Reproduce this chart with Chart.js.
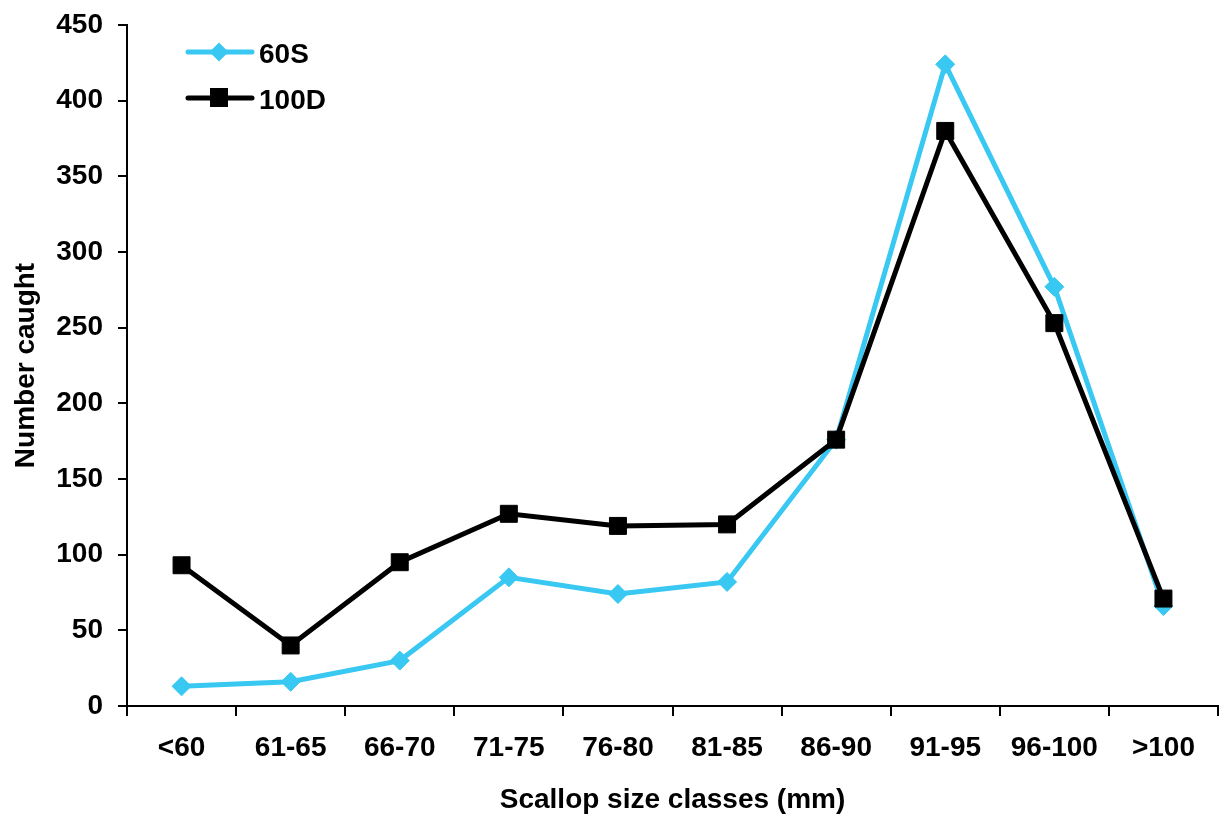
<!DOCTYPE html>
<html><head><meta charset="utf-8">
<script src="https://cdn.jsdelivr.net/npm/chart.js@4/dist/chart.umd.min.js"></script>
<style>html,body{margin:0;padding:0;background:#fff}#wrap{width:1219px;height:817px}</style>
</head><body><div id="wrap"><canvas id="c" width="1219" height="817"></canvas></div>
<script>
const categories = ['<60','61-65','66-70','71-75','76-80','81-85','86-90','91-95','96-100','>100'];
const series60S = [13, 16, 30, 85, 74, 82, 176, 424, 277, 66];
const series100D = [93, 40, 95, 127, 119, 120, 176, 380, 253, 71];
const yTicks = [0, 50, 100, 150, 200, 250, 300, 350, 400, 450];

const CYAN = '#38C8F2';
const FONT = "'Liberation Sans', Arial, sans-serif";

const legendPlugin = {
  id: 'customLegend',
  afterDraw(chart) {
    const ctx = chart.ctx;
    const items = [
      {label: '60S', color: CYAN, style: 'diamond', y: 52},
      {label: '100D', color: '#000', style: 'square', y: 98}
    ];
    ctx.save();
    items.forEach(it => {
      ctx.strokeStyle = it.color; ctx.fillStyle = it.color;
      ctx.lineWidth = 5; ctx.lineCap = 'round';
      ctx.beginPath(); ctx.moveTo(188, it.y); ctx.lineTo(252, it.y); ctx.stroke();
      const cx = 219, cy = it.y;
      if (it.style === 'diamond') {
        ctx.beginPath(); ctx.moveTo(cx, cy-9.5); ctx.lineTo(cx+9.5, cy); ctx.lineTo(cx, cy+9.5); ctx.lineTo(cx-9.5, cy); ctx.closePath(); ctx.fill();
      } else {
        ctx.fillRect(cx-9, cy-10, 18, 19);
      }
      ctx.fillStyle = '#000';
      ctx.font = "bold 28px " + FONT;
      ctx.textBaseline = 'middle'; ctx.textAlign = 'left';
      ctx.fillText(it.label, 259, it.y + 3);
    });
    ctx.restore();
  }
};

new Chart(document.getElementById('c'), {
  type: 'line',
  data: {
    labels: categories,
    datasets: [
      {label: '60S', data: series60S, borderColor: CYAN, backgroundColor: CYAN, borderWidth: 5,
       pointStyle: 'rectRot', pointRadius: 9.5, pointHoverRadius: 9.5, pointBorderWidth: 1, tension: 0, order: 2},
      {label: '100D', data: series100D, borderColor: '#000', backgroundColor: '#000', borderWidth: 5,
       pointStyle: 'rect', pointRadius: 12, pointHoverRadius: 12, pointBorderWidth: 1, tension: 0, order: 1}
    ]
  },
  options: {
    responsive: false, animation: false, devicePixelRatio: 1,
    layout: {autoPadding: false, padding: {top: 25, right: 1, left: 0, bottom: 0}},
    plugins: {legend: {display: false}, tooltip: {enabled: false}},
    scales: {
      x: {
        type: 'category', offset: true,
        grid: {offset: true, drawOnChartArea: false, drawTicks: true, tickLength: 10, color: '#000', lineWidth: 2},
        border: {display: true, color: '#000', width: 2},
        ticks: {color: '#000', font: {family: FONT, size: 28, weight: 'bold'}, padding: 15, maxRotation: 0, autoSkip: false},
        title: {display: true, text: 'Scallop size classes (mm)', color: '#000', font: {family: FONT, size: 28, weight: 'bold'}, padding: {top: 18, bottom: 0}},
        afterFit(s) { s.height = 111; s.paddingLeft = 0; s.paddingRight = 0; }
      },
      y: {
        min: 0, max: 450,
        afterBuildTicks(s) { s.ticks = yTicks.map(v => ({value: v})); },
        grid: {drawOnChartArea: false, drawTicks: true, tickLength: 9, color: '#000', lineWidth: 2},
        border: {display: true, color: '#000', width: 2},
        ticks: {color: '#000', font: {family: FONT, size: 28, weight: 'bold'}, padding: 15},
        title: {display: true, text: 'Number caught', color: '#000', font: {family: FONT, size: 28, weight: 'bold'}, padding: {top: 9, bottom: 0}},
        afterFit(s) { s.width = 127; s.paddingTop = 0; s.paddingBottom = 0; }
      }
    }
  },
  plugins: [legendPlugin]
});
</script></body></html>
